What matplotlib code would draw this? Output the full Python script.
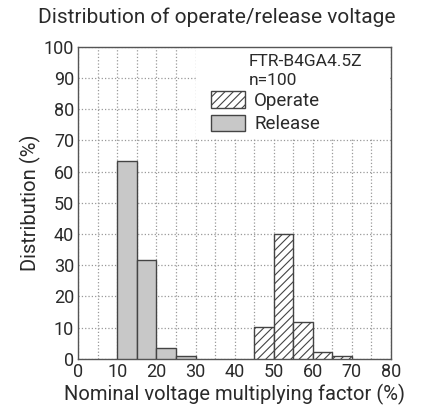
import matplotlib.pyplot as plt
from matplotlib.patches import Patch, Rectangle
import numpy as np

plt.rcParams['font.family'] = ['Roboto', 'DejaVu Sans']
plt.rcParams['hatch.linewidth'] = 0.8

# Bin left edges (% of nominal voltage), bin width 5
release_bins = [10, 15, 20, 25]
release_vals = [63.5, 31.7, 3.5, 1.0]
operate_bins = [45, 50, 55, 60, 65]
operate_vals = [10.3, 40.0, 11.7, 2.3, 1.0]
bin_width = 5

model_name = "FTR-B4GA4.5Z"
sample_n = "n=100"

txt = '#2a2a2a'
edge = '#444444'

fig = plt.figure(figsize=(4.25, 4.11), dpi=100)
ax = fig.add_axes([0.184, 0.127, 0.736, 0.759])
ax.set_axisbelow(True)

ax.bar(release_bins, release_vals, width=bin_width, align='edge',
       color='#c8c8c8', edgecolor=edge, linewidth=1.0, zorder=3)
ax.bar(operate_bins, operate_vals, width=bin_width, align='edge',
       color='white', edgecolor=edge, hatch='////', linewidth=1.0, zorder=3)

ax.set_xlim(0, 80)
ax.set_ylim(0, 100)
ax.set_xticks(np.arange(0, 81, 10))
ax.set_yticks(np.arange(0, 101, 10))
ax.set_xticks(np.arange(5, 80, 10), minor=True)
ax.tick_params(which='both', length=0, labelsize=13, colors=txt, pad=3)
ax.grid(which='both', axis='x', linestyle=':', color='#999999', linewidth=0.9)
ax.grid(which='major', axis='y', linestyle=':', color='#999999', linewidth=0.9)
for s in ax.spines.values():
    s.set_color('#555555')
    s.set_linewidth(1.0)

# white area behind the annotation block hides the grid
ax.add_patch(Rectangle((30, 70.5), 49.8, 29.3, facecolor='white',
                       edgecolor='none', zorder=2))

ax.text(43.5, 95.2, model_name, fontsize=12.5, va='center', color=txt, zorder=4)
ax.text(43.5, 89.3, sample_n, fontsize=12.5, va='center', color=txt, zorder=4)
handles = [Patch(facecolor='white', edgecolor=edge, hatch='////', label='Operate'),
           Patch(facecolor='#c8c8c8', edgecolor=edge, label='Release')]
ax.legend(handles=handles, loc='upper left', bbox_to_anchor=(0.425, 0.858),
          frameon=False, fontsize=13.5, handlelength=1.8, handleheight=1.0,
          handletextpad=0.5, labelspacing=0.25, borderaxespad=0, borderpad=0,
          labelcolor=txt)

ax.set_xlabel("Nominal voltage multiplying factor (%)", fontsize=14.5, color=txt, labelpad=2)
ax.set_ylabel("Distribution (%)", fontsize=14.5, color=txt, labelpad=2)
fig.text(0.51, 0.957, "Distribution of operate/release voltage", fontsize=15,
         ha='center', va='center', color=txt)

fig.savefig('out.png', dpi=100)
